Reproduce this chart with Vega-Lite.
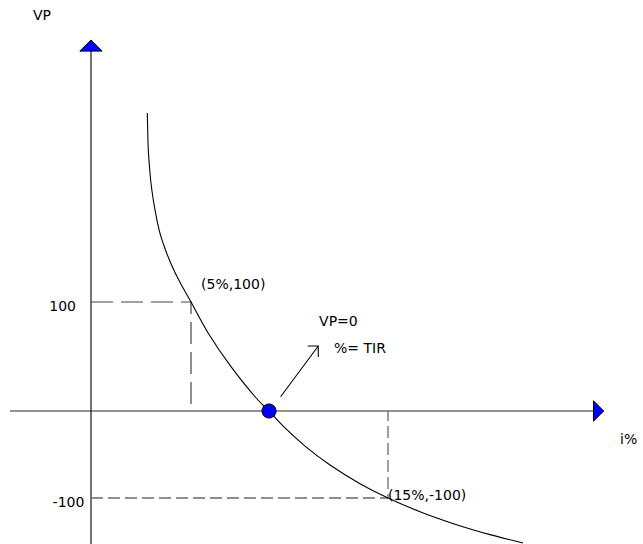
{
  "$schema": "https://vega.github.io/schema/vega-lite/v6.json",
  "width": 643,
  "height": 544,
  "autosize": "none",
  "padding": 0,
  "background": "white",
  "config": {"view": {"stroke": null}},
  "datasets": {
    "xaxis": [{"x": -4.05, "y": 0}, {"x": 25.41, "y": 0}],
    "yaxis": [{"x": 0, "y": 330.3, "o": 1}, {"x": 0, "y": -153, "o": 2}],
    "dashUp": [{"x": 0, "y": 100, "o": 1}, {"x": 5, "y": 100, "o": 2}, {"x": 5, "y": 0, "o": 3}],
    "dashDown": [{"x": 0, "y": -100, "o": 1}, {"x": 15, "y": -100, "o": 2}, {"x": 15, "y": 0, "o": 3}],
    "curve": [
      {"x": 2.815, "y": 273.39}, {"x": 2.835, "y": 257.8}, {"x": 2.865, "y": 239.45},
      {"x": 2.925, "y": 223.85}, {"x": 3.0, "y": 208.9}, {"x": 3.115, "y": 193.58},
      {"x": 3.265, "y": 178.26}, {"x": 3.45, "y": 163.03}, {"x": 3.725, "y": 147.71},
      {"x": 4.065, "y": 132.39}, {"x": 4.475, "y": 117.16}, {"x": 5.0, "y": 100},
      {"x": 5.878, "y": 71.28}, {"x": 7.03, "y": 40.64}, {"x": 8.401, "y": 10.09},
      {"x": 8.959, "y": 0}, {"x": 9.772, "y": -19.49}, {"x": 10.787, "y": -40.34},
      {"x": 12.056, "y": -62.13}, {"x": 13.579, "y": -83.51}, {"x": 15.0, "y": -100},
      {"x": 16.624, "y": -115.75}, {"x": 18.401, "y": -130.06}, {"x": 20.178, "y": -142.07},
      {"x": 21.853, "y": -151.72}
    ],
    "arrow": [
      {"g": "shaft", "o": 1, "x": 9.55, "y": 13.1},
      {"g": "shaft", "o": 2, "x": 11.46, "y": 59.6},
      {"g": "head", "o": 1, "x": 10.92, "y": 59.6},
      {"g": "head", "o": 2, "x": 11.46, "y": 59.6},
      {"g": "head", "o": 3, "x": 11.46, "y": 49.5}
    ],
    "tir": [{"x": 8.96, "y": 0}],
    "upArrow": [{"x": 0, "y": 335.3}],
    "rightArrow": [{"x": 25.69, "y": 0}],
    "labelsLeft": [
      {"t": "VP", "x": -2.9, "y": 358.7},
      {"t": "(5%,100)", "x": 5.51, "y": 111.9},
      {"t": "VP=0", "x": 11.5, "y": 78.0},
      {"t": "%=  TIR", "x": 12.26, "y": 53.2},
      {"t": "(15%,-100)", "x": 15.0, "y": -102.3},
      {"t": "i%", "x": 26.78, "y": -37.9}
    ],
    "labelsRight": [
      {"t": "100", "x": -0.75, "y": 91.7},
      {"t": "-100", "x": -0.33, "y": -110.9}
    ]
  },
  "encoding": {
    "x": {"field": "x", "type": "quantitative", "axis": null,
          "scale": {"domain": [0, 5, 15], "range": [91, 191, 388], "nice": false, "zero": false, "clamp": false}},
    "y": {"field": "y", "type": "quantitative", "axis": null,
          "scale": {"domain": [-100, 0, 100], "range": [498, 411, 302], "nice": false, "zero": false, "clamp": false}}
  },
  "layer": [
    {"data": {"name": "xaxis"}, "mark": {"type": "line", "color": "#6e6e6e", "strokeWidth": 1.3}, "encoding": {}},
    {"data": {"name": "yaxis"}, "mark": {"type": "line", "color": "#000000", "strokeWidth": 1.1},
     "encoding": {"order": {"field": "o", "type": "quantitative"}}},
    {"data": {"name": "dashUp"}, "mark": {"type": "line", "color": "#444444", "strokeWidth": 1.2, "strokeDash": [22, 8]},
     "encoding": {"order": {"field": "o", "type": "quantitative"}}},
    {"data": {"name": "dashDown"}, "mark": {"type": "line", "color": "#6a6a6a", "strokeWidth": 1.3, "strokeDash": [12, 5]},
     "encoding": {"order": {"field": "o", "type": "quantitative"}}},
    {"data": {"name": "curve"}, "mark": {"type": "line", "color": "#000000", "strokeWidth": 1.1, "interpolate": "catmull-rom"}, "encoding": {}},
    {"data": {"name": "arrow"}, "mark": {"type": "line", "color": "#000000", "strokeWidth": 1.1},
     "encoding": {"detail": {"field": "g", "type": "nominal"}, "order": {"field": "o", "type": "quantitative"}}},
    {"data": {"name": "tir"}, "mark": {"type": "point", "shape": "circle", "filled": true, "fill": "#0000ff", "stroke": "#000000", "strokeWidth": 1, "size": 200, "opacity": 1}},
    {"data": {"name": "upArrow"}, "mark": {"type": "point", "shape": "M-1,0.5L0,-0.5L1,0.5Z", "filled": true, "fill": "#0000ff", "stroke": "#000000", "strokeWidth": 1, "size": 500, "opacity": 1}},
    {"data": {"name": "rightArrow"}, "mark": {"type": "point", "shape": "M-0.5,-1L0.5,0L-0.5,1Z", "filled": true, "fill": "#0000ff", "stroke": "#000000", "strokeWidth": 1, "size": 420, "opacity": 1}},
    {"data": {"name": "labelsLeft"}, "mark": {"type": "text", "font": "DejaVu Sans", "fontSize": 14, "color": "#000000", "baseline": "alphabetic", "align": "left"},
     "encoding": {"text": {"field": "t", "type": "nominal"}}},
    {"data": {"name": "labelsRight"}, "mark": {"type": "text", "font": "DejaVu Sans", "fontSize": 14, "color": "#000000", "baseline": "alphabetic", "align": "right"},
     "encoding": {"text": {"field": "t", "type": "nominal"}}}
  ]
}
